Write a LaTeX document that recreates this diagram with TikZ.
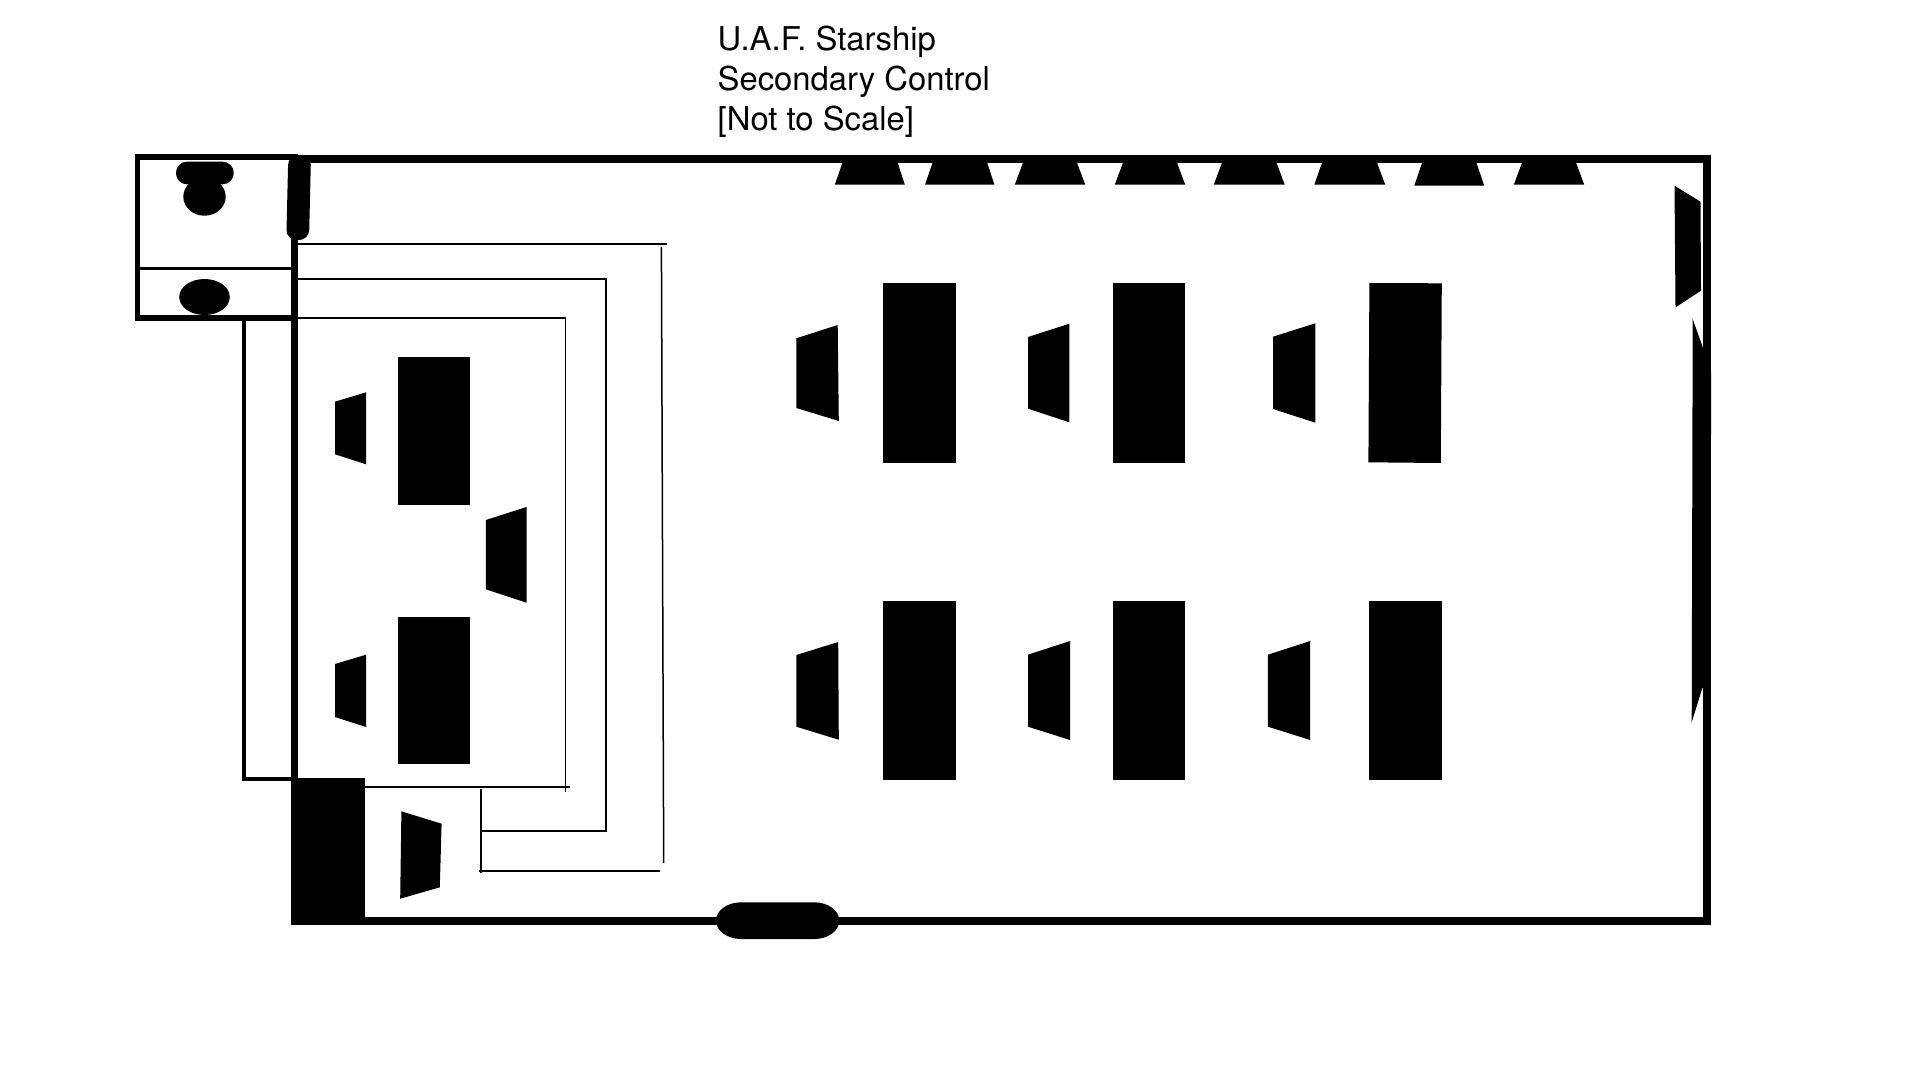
\documentclass[tikz,border=0pt]{standalone}
\usepackage{fontspec}
\setmainfont{TeX Gyre Heros}
\begin{document}
\begin{tikzpicture}[x=1pt,y=-1pt,
  solidshape/.style={fill=black,draw=none},
  wallthick/.style={draw=black,line width=8pt,line cap=butt,line join=miter},
  wallmid/.style={draw=black,line width=5.8pt,line join=miter},
  linemed/.style={draw=black,line width=3.6pt,line join=miter},
  linethin/.style={draw=black,line width=2pt,line join=miter},
  linefine/.style={draw=black,line width=1.5pt,line join=miter},
  titletext/.style={font=\fontsize{32.8}{40}\selectfont,align=left,inner sep=0pt,anchor=north west,text=black}]
\useasboundingbox (0,0) rectangle (1920,1080);
\fill[white] (0,0) rectangle (1920,1080);
% title
\node[titletext] (title) at (717.5,26) {U.A.F. Starship\\Secondary Control\\{[}Not to Scale{]}};
% thin conduits
\draw[linethin] (298,244) -- (667,244);
\draw[linefine] (661.4,247) -- (663.7,863);
\draw[linethin] (298,278.7) -- (605.7,278.7) -- (605.7,830.7) -- (481,830.7);
\draw[linethin] (298,318.3) -- (565.6,318.3);
\draw[linefine] (565.6,318.3) -- (565.6,792);
\draw[linethin] (365,787.3) -- (569.6,787.3);
\draw[linefine] (481,788.7) -- (481,872.7);
\draw[linethin] (479,870.7) -- (659.7,870.7);
% outer walls
\draw[wallthick] (294.5,158.7) -- (1706.5,158.7) -- (1706.5,921.3) -- (294.5,921.3);
\draw[wallthick,line width=7.4pt] (294.6,154) -- (294.6,925.3);
% small room
\draw[wallmid] (294.5,156.9) -- (137.5,156.9) -- (137.5,318.3) -- (294.5,318.3);
\draw[linemed,line width=3.3pt] (140,268.3) -- (291,268.3);
\draw[linemed] (244,320) -- (244,778.7) -- (291,778.7);
% small room furniture
\fill[solidshape,rounded corners=11pt] (176,161.7) rectangle (233.7,184.3);
\fill[solidshape] (204.5,196.7) ellipse [x radius=21.2pt,y radius=19pt];
\fill[solidshape] (204.5,297) ellipse [x radius=25.3pt,y radius=18pt];
\fill[solidshape,rounded corners=10pt] (288.3,155) -- (311,155) -- (309,240) -- (286.3,240) -- cycle;
% black block and wall pill
\fill[solidshape] (290.6,777.7) rectangle (365.2,925.3);
\fill[solidshape] (741,902.3) -- (814.3,902.3) arc[start angle=90,end angle=-90,x radius=25pt,y radius=18.35pt] -- (741,939) arc[start angle=270,end angle=90,x radius=25pt,y radius=18.35pt] -- cycle;
% side room tables and chairs
\fill[solidshape] (398,357) rectangle (470.3,504.7);
\fill[solidshape] (398,617) rectangle (470.3,764.3);
\fill[solidshape] (335,401.7) -- (366,392.3) -- (366,464.3) -- (335,454.3) -- cycle;
\fill[solidshape] (335,664) -- (366,654.7) -- (366,727) -- (335,717) -- cycle;
\fill[solidshape] (485.8,520) -- (526.5,507) -- (526.5,602.7) -- (485.8,589.3) -- cycle;
\fill[solidshape] (401.4,811.3) -- (441.6,823.7) -- (439.8,887.3) -- (400.2,898.7) -- cycle;
% main tables
\fill[solidshape] (883,283) rectangle (956,462.7);
\fill[solidshape] (883,600.5) rectangle (956,780.3);
\fill[solidshape] (1113,283) rectangle (1185.3,462.7);
\fill[solidshape] (1113,600.5) rectangle (1185.3,780.3);
\fill[solidshape] (1369.4,283) -- (1441.8,283.3) -- (1440.8,463) -- (1368.4,462.3) -- cycle;
\fill[solidshape] (1368.9,600.5) rectangle (1441.8,780.3);
% main chairs
\fill[solidshape] (796.3,338.3) -- (837.7,325) -- (838.8,421) -- (796.3,408) -- cycle;
\fill[solidshape] (796.3,655) -- (838.2,642) -- (838.8,739.7) -- (796.3,726.7) -- cycle;
\fill[solidshape] (1028,337) -- (1069.4,323.7) -- (1069.4,422.3) -- (1028,408.7) -- cycle;
\fill[solidshape] (1028,654.7) -- (1070,641) -- (1070,740) -- (1028,726.7) -- cycle;
\fill[solidshape] (1273,336.7) -- (1315.3,323.3) -- (1315.3,422.7) -- (1273,409) -- cycle;
\fill[solidshape] (1267.9,654.7) -- (1310.2,641) -- (1310.2,740) -- (1267.9,726.7) -- cycle;
% top console seats
\fill[solidshape] (843.4,160) -- (896.8,160) -- (904.8,184.7) -- (834.8,184.7) -- cycle;
\fill[solidshape] (933.5,160) -- (986.3,160) -- (994.4,184.7) -- (925,184.7) -- cycle;
\fill[solidshape] (1024,160) -- (1076,160) -- (1085.2,184.7) -- (1014.8,184.7) -- cycle;
\fill[solidshape] (1124,160) -- (1176,160) -- (1185.2,184.7) -- (1114.8,184.7) -- cycle;
\fill[solidshape] (1223,160) -- (1275.5,160) -- (1284.7,184.7) -- (1213.8,184.7) -- cycle;
\fill[solidshape] (1323,160) -- (1376,160) -- (1385.2,184.7) -- (1314.3,184.7) -- cycle;
\fill[solidshape] (1423,160) -- (1475.5,160) -- (1484.2,185.7) -- (1414.3,185.7) -- cycle;
\fill[solidshape] (1523,160) -- (1575,160) -- (1584.2,184.7) -- (1513.8,184.7) -- cycle;
% right side
\fill[solidshape] (1674.5,185.7) -- (1700.5,201.7) -- (1701,290.7) -- (1675.5,307.3) -- cycle;
\fill[solidshape] (1692.7,319) -- (1703,348) -- (1703,372) -- (1711.1,372) -- (1710.5,688) -- (1702.3,688) -- (1691.7,722.3) -- cycle;
\end{tikzpicture}
\end{document}
